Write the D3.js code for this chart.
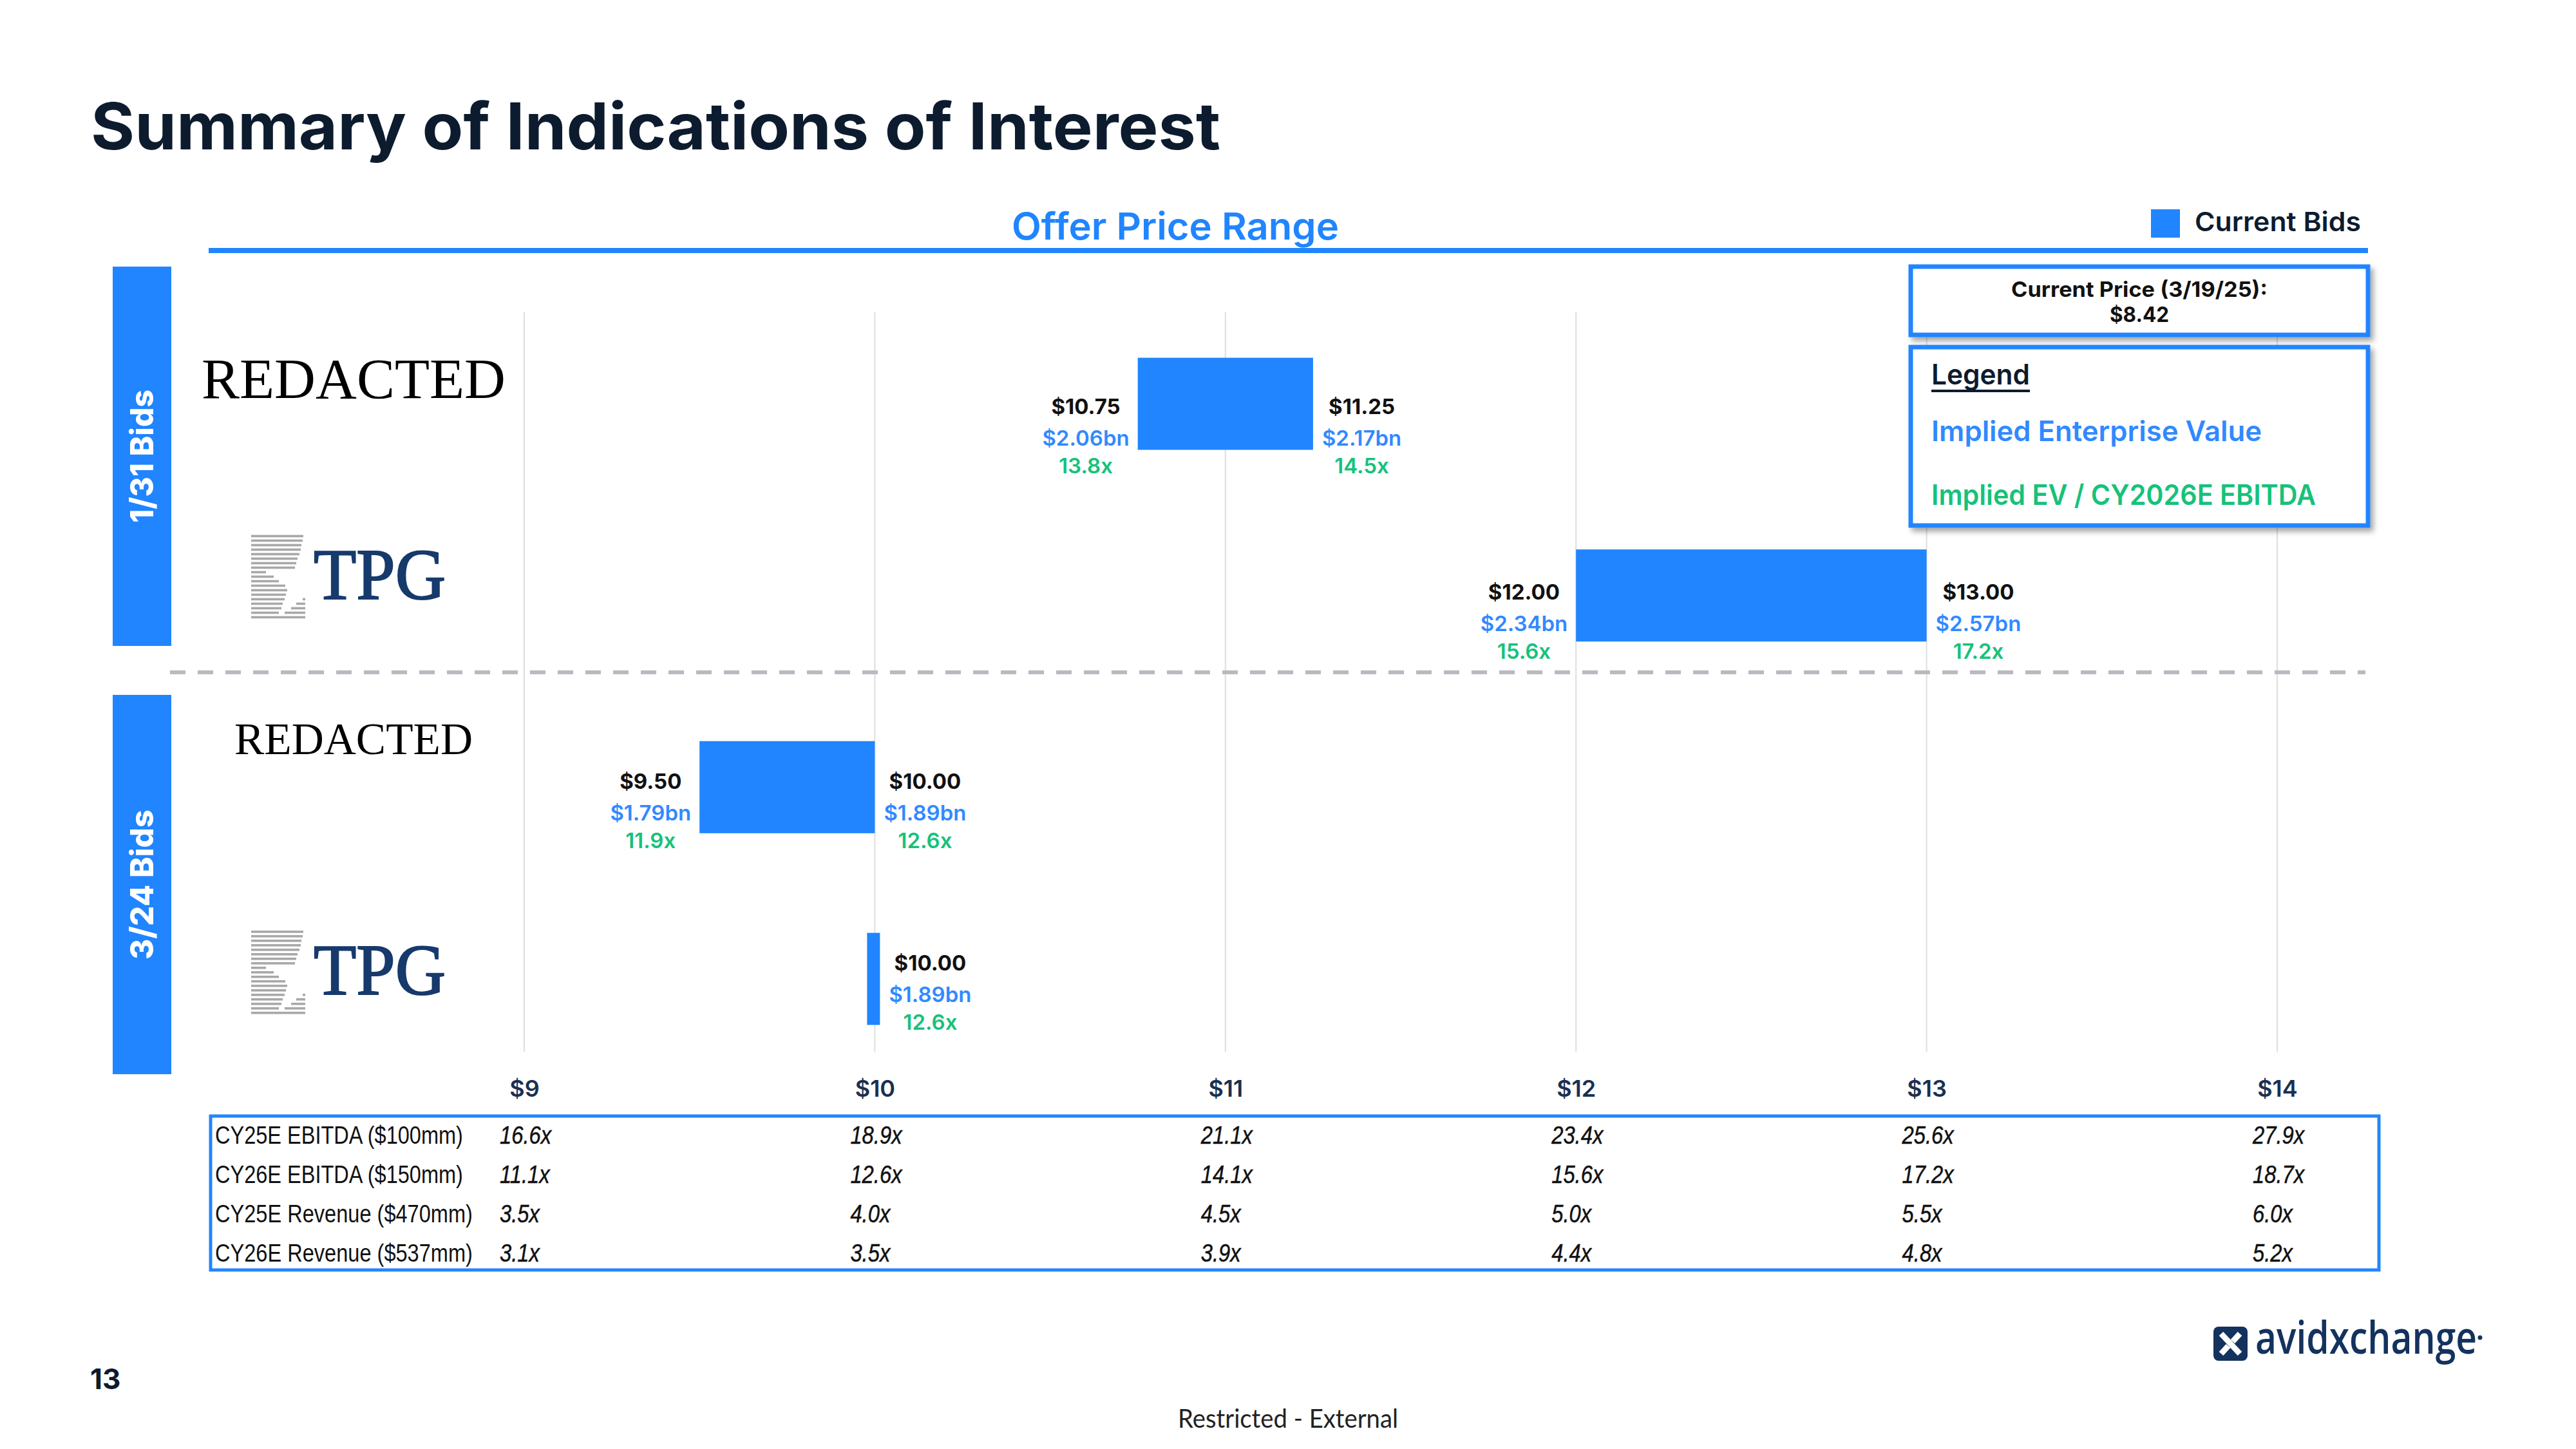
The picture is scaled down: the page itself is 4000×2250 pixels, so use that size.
<!DOCTYPE html>
<html><head><meta charset="utf-8">
<script src="https://cdn.jsdelivr.net/npm/d3@7"></script>
<style>
html,body{margin:0;padding:0;background:#fff;}
svg{display:block;}
</style></head><body>
<svg id="chart" width="4000" height="2250"></svg>
<script>
// ---------------- data ----------------
const chartTitle = "Summary of Indications of Interest";
const axisTitle = "Offer Price Range";
const legendLabel = "Current Bids";
const currentPriceLabel = "Current Price (3/19/25):";
const currentPrice = 8.42;
const legendTitle = "Legend";
const legendItems = ["Implied Enterprise Value", "Implied EV / CY2026E EBITDA"];
const roundLabels = ["1/31 Bids", "3/24 Bids"];
const bidders = ["REDACTED", "TPG", "REDACTED", "TPG"];
const bidRound = [0, 0, 1, 1];
const priceLow = [10.75, 12.00, 9.50, null];
const priceHigh = [11.25, 13.00, 10.00, 10.00];
const evLow = [2.06, 2.34, 1.79, null];
const evHigh = [2.17, 2.57, 1.89, 1.89];
const multLow = [13.8, 15.6, 11.9, null];
const multHigh = [14.5, 17.2, 12.6, 12.6];
const priceTicks = [9, 10, 11, 12, 13, 14];
const tableRowLabels = ["CY25E EBITDA ($100mm)", "CY26E EBITDA ($150mm)", "CY25E Revenue ($470mm)", "CY26E Revenue ($537mm)"];
const cy25EbitdaMult = [16.6, 18.9, 21.1, 23.4, 25.6, 27.9];
const cy26EbitdaMult = [11.1, 12.6, 14.1, 15.6, 17.2, 18.7];
const cy25RevenueMult = [3.5, 4.0, 4.5, 5.0, 5.5, 6.0];
const cy26RevenueMult = [3.1, 3.5, 3.9, 4.4, 4.8, 5.2];
const pageNumber = "13";
const footerText = "Restricted - External";
const brandName = "avidxchange";

// ---------------- style / layout ----------------
const BLUE = "#2085ff", EVBLUE = "#3189ff", GREEN = "#16c27a", NAVY = "#0d1b2e", LOGONAVY = "#14325e";
const SANS = "Inter, 'Open Sans', 'Noto Sans', sans-serif";
const SERIF = "'Liberation Serif', 'DejaVu Serif', serif";
const NARROW = "'Liberation Sans Narrow', 'Liberation Sans', Arial, sans-serif";
const logoLayout = [{dy: -38, size: 88, w: 472}, {dy: -31}, {dy: -74, size: 70, w: 370}, {dy: -12}];
const labelDy = [50, 40, 37, 21];

const svg = d3.select("#chart");
const defs = svg.append("defs");
const f = defs.append("filter").attr("id", "shadow").attr("x", "-5%").attr("y", "-10%").attr("width", "115%").attr("height", "130%");
f.append("feDropShadow").attr("dx", 5).attr("dy", 6).attr("stdDeviation", 4).attr("flood-color", "#000").attr("flood-opacity", 0.35);

function fit(sel, w) { sel.attr("textLength", w).attr("lengthAdjust", "spacingAndGlyphs"); return sel; }
// horizontally squeeze a text (placed at px,py) to a target width using a transform
function squeeze(node, px, py, targetW) {
  const L = node.getComputedTextLength();
  const k = Math.min(1, targetW / L);
  d3.select(node).attr("x", 0).attr("y", 0).attr("transform", `translate(${px},${py}) scale(${k},1)`);
}

// scales
const x = d3.scaleLinear().domain([9, 14]).range([814, 3536]);
const y = d3.scalePoint().domain(d3.range(bidders.length)).range([627, 1520]);
const barH = 143;
const gridTop = 485, gridBottom = 1633;

// ---------------- title ----------------
fit(svg.append("text").attr("x", 141).attr("y", 232).attr("font-family", SANS).attr("font-weight", 700)
  .attr("font-size", 100).attr("fill", NAVY).text(chartTitle), 1754);

// offer price range header
fit(svg.append("text").attr("x", 1825).attr("y", 372).attr("text-anchor", "middle").attr("font-family", SANS)
  .attr("font-weight", 600).attr("font-size", 58).attr("fill", BLUE).text(axisTitle), 508);
svg.append("rect").attr("x", 324).attr("y", 385).attr("width", 3677 - 324).attr("height", 8).attr("fill", BLUE);

// legend: current bids
svg.append("rect").attr("x", 3340).attr("y", 325).attr("width", 45).attr("height", 44).attr("fill", BLUE);
fit(svg.append("text").attr("x", 3408).attr("y", 359).attr("font-family", SANS).attr("font-weight", 600)
  .attr("font-size", 41).attr("fill", NAVY).text(legendLabel), 258);

// ---------------- gridlines ----------------
svg.append("g").selectAll("line").data(priceTicks).join("line")
  .attr("x1", d => x(d)).attr("x2", d => x(d)).attr("y1", gridTop).attr("y2", gridBottom)
  .attr("stroke", "#dedede").attr("stroke-width", 2);

// x axis tick labels
const axis = svg.append("g").attr("transform", `translate(0,${1703})`)
  .call(d3.axisBottom(x).tickValues(priceTicks).tickSize(0).tickFormat(d => "$" + d));
axis.select(".domain").remove();
axis.selectAll("text").attr("y", 0).attr("dy", 0).attr("font-family", SANS).attr("font-weight", 600)
  .attr("font-size", 36).attr("fill", "#1b3050");

// ---------------- round side bars ----------------
const roundBox = [[414, 1003], [1079, 1668]];
roundLabels.forEach((lab, r) => {
  svg.append("rect").attr("x", 175).attr("y", roundBox[r][0]).attr("width", 91).attr("height", roundBox[r][1] - roundBox[r][0]).attr("fill", BLUE);
  const cy = (roundBox[r][0] + roundBox[r][1]) / 2;
  fit(svg.append("text").attr("transform", `translate(238,${cy}) rotate(-90)`).attr("text-anchor", "middle")
    .attr("font-family", SANS).attr("font-weight", 800).attr("font-size", 50).attr("fill", "#fff").text(lab), r === 0 ? 207 : 233);
});

// dashed separator between rounds
svg.append("line").attr("x1", 264).attr("x2", 3673).attr("y1", 1044).attr("y2", 1044)
  .attr("stroke", "#b9b9c1").attr("stroke-width", 6).attr("stroke-dasharray", "24 19");

// ---------------- company logos ----------------
const tpgStripes = [[[0,81]],[[0,80]],[[0,78]],[[0,77]],[[0,75]],[[0,72]],[[0,70]],[[0,68]],[[0,23]],[[0,35]],[[0,43]],[[0,53]],[[0,56]],[[0,54]],[[0,52],[80,84]],[[0,49],[70,84]],[[0,47],[62,84]],[[0,43],[52,84]],[[0,84]]];
bidders.forEach((b, i) => {
  const cy = y(i) + logoLayout[i].dy;
  if (b === "TPG") {
    const g = svg.append("g").attr("transform", `translate(390,${cy - 63})`);
    tpgStripes.forEach((segs, k) => segs.forEach(s => g.append("rect").attr("x", s[0]).attr("y", k * 7).attr("width", s[1] - s[0]).attr("height", 3.6).attr("fill", "#a8a8a8")));
    fit(g.append("text").attr("x", 97).attr("y", 99).attr("font-family", SERIF).attr("font-size", 112)
      .attr("fill", "#173a6c").attr("stroke", "#173a6c").attr("stroke-width", 2.2).text("TPG"), 205);
  } else {
    fit(svg.append("text").attr("x", 549).attr("y", cy + logoLayout[i].size * 0.33).attr("text-anchor", "middle")
      .attr("font-family", SERIF).attr("font-size", logoLayout[i].size).attr("fill", "#000").text(b), logoLayout[i].w);
  }
});

// ---------------- bars ----------------
const bids = bidders.map((b, i) => ({i, lo: priceLow[i], hi: priceHigh[i], evLo: evLow[i], evHi: evHigh[i], mLo: multLow[i], mHi: multHigh[i]}));
svg.append("g").selectAll("rect").data(bids).join("rect")
  .attr("x", d => d.lo == null ? x(d.hi) - 12 : x(d.lo))
  .attr("width", d => d.lo == null ? 20 : x(d.hi) - x(d.lo))
  .attr("y", d => y(d.i) - barH / 2).attr("height", barH).attr("fill", BLUE);

// ---------------- bar labels ----------------
const fmtPrice = d3.format("$.2f"), fmtEv = v => "$" + d3.format(".2f")(v) + "bn", fmtMult = v => d3.format(".1f")(v) + "x";
function labelBlock(edgeX, side, cy, price, ev, mult) {
  const g = svg.append("g");
  const evT = g.append("text").attr("font-family", SANS).attr("font-weight", 600).attr("font-size", 33).attr("fill", EVBLUE)
    .attr("dominant-baseline", "central").attr("text-anchor", "middle").attr("y", cy + 3).text(fmtEv(ev));
  const w = evT.node().getComputedTextLength();
  const cx = side < 0 ? edgeX - 13 - w / 2 : edgeX + 14 + w / 2;
  evT.attr("x", cx);
  g.append("text").attr("x", cx).attr("y", cy - 46).attr("text-anchor", "middle").attr("dominant-baseline", "central")
    .attr("font-family", SANS).attr("font-weight", 700).attr("font-size", 33).attr("fill", "#111").text(fmtPrice(price));
  g.append("text").attr("x", cx).attr("y", cy + 46).attr("text-anchor", "middle").attr("dominant-baseline", "central")
    .attr("font-family", SANS).attr("font-weight", 600).attr("font-size", 33).attr("fill", GREEN).text(fmtMult(mult));
}
bids.forEach(d => {
  const single = d.lo == null;
  const cy = y(d.i) + labelDy[d.i];
  if (!single) labelBlock(x(d.lo), -1, cy, d.lo, d.evLo, d.mLo);
  labelBlock(single ? x(d.hi) + 8 : x(d.hi), 1, cy, d.hi, d.evHi, d.mHi);
});

// ---------------- current price & legend boxes ----------------
svg.append("rect").attr("x", 2967).attr("y", 414).attr("width", 710).attr("height", 106).attr("fill", "#fff")
  .attr("stroke", BLUE).attr("stroke-width", 7).attr("filter", "url(#shadow)");
fit(svg.append("text").attr("x", 3322).attr("y", 461).attr("text-anchor", "middle").attr("font-family", SANS)
  .attr("font-weight", 700).attr("font-size", 33).attr("fill", "#111").text(currentPriceLabel), 398);
fit(svg.append("text").attr("x", 3322).attr("y", 500).attr("text-anchor", "middle").attr("font-family", SANS)
  .attr("font-weight", 700).attr("font-size", 33).attr("fill", "#111").text(fmtPrice(currentPrice)), 92);

svg.append("rect").attr("x", 2967).attr("y", 539).attr("width", 710).attr("height", 277).attr("fill", "#fff")
  .attr("stroke", BLUE).attr("stroke-width", 7).attr("filter", "url(#shadow)");
fit(svg.append("text").attr("x", 2999).attr("y", 597).attr("font-family", SANS).attr("font-weight", 600)
  .attr("font-size", 44).attr("fill", NAVY).text(legendTitle), 153);
svg.append("rect").attr("x", 2999).attr("y", 605).attr("width", 153).attr("height", 4).attr("fill", NAVY);
const legendColors = [EVBLUE, GREEN];
const legendBase = [685, 784];
const legendW = [513, 597];
legendItems.forEach((t, k) => {
  fit(svg.append("text").attr("x", 2999).attr("y", legendBase[k]).attr("font-family", SANS).attr("font-weight", 600)
    .attr("font-size", 44).attr("fill", legendColors[k]).text(t), legendW[k]);
});

// ---------------- multiples table ----------------
svg.append("rect").attr("x", 327).attr("y", 1733).attr("width", 3694 - 327).attr("height", 239)
  .attr("fill", "none").attr("stroke", BLUE).attr("stroke-width", 5);
const tableValues = [cy25EbitdaMult, cy26EbitdaMult, cy25RevenueMult, cy26RevenueMult];
const rowY = d3.scalePoint().domain(d3.range(4)).range([1776, 1959]);
const rowLabelW = [385, 385, 400, 400];
tableRowLabels.forEach((lab, r) => {
  const t = svg.append("text").attr("font-family", NARROW).attr("font-size", 38).attr("fill", "#111").text(lab);
  squeeze(t.node(), 334, rowY(r), rowLabelW[r]);
  svg.append("g").selectAll("text").data(tableValues[r]).join("text")
    .attr("font-family", NARROW).attr("font-style", "italic").attr("font-size", 39).attr("fill", "#111")
    .attr("stroke", "#111").attr("stroke-width", 0.5)
    .text(d => d3.format(".1f")(d) + "x")
    .each(function(d, c) {
      const L = this.getComputedTextLength();
      d3.select(this).attr("transform", `translate(${x(priceTicks[c]) - 38},${rowY(r)}) scale(0.84,1)`);
    });
});

// ---------------- footer ----------------
svg.append("text").attr("x", 140).attr("y", 2157).attr("font-family", SANS).attr("font-weight", 700)
  .attr("font-size", 44).attr("fill", NAVY).text(pageNumber);
fit(svg.append("text").attr("x", 2000).attr("y", 2217).attr("text-anchor", "middle").attr("font-family", "Lato, 'Open Sans', sans-serif")
  .attr("font-size", 40).attr("fill", "#222").text(footerText), 342);

// brand logo
const lg = svg.append("g");
lg.append("rect").attr("x", 3437).attr("y", 2060).attr("width", 53).attr("height", 53).attr("rx", 8).attr("fill", LOGONAVY);
lg.append("path").attr("d", "M3449,2071 L3478,2102 M3478,2071 L3467,2083 M3460,2090 L3449,2102")
  .attr("stroke", "#fff").attr("stroke-width", 9).attr("fill", "none");
fit(lg.append("text").attr("x", 3502).attr("y", 2102).attr("font-family", "'Open Sans', Lato, sans-serif").attr("font-weight", 600)
  .attr("font-size", 70).attr("fill", LOGONAVY).text(brandName), 344);
lg.append("circle").attr("cx", 3851).attr("cy", 2077).attr("r", 3.5).attr("fill", LOGONAVY);
</script>
</body></html>
